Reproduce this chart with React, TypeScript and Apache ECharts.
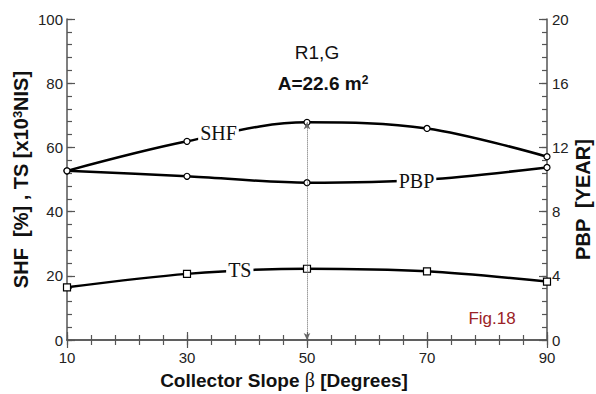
import React, { useEffect, useRef } from "react";
import * as echarts from "echarts";

const slopes = [10, 30, 50, 70, 90];
const shf = [52.7, 61.9, 67.8, 65.9, 57.1];
const pbp = [10.54, 10.2, 9.8, 10.0, 10.75];
const ts = [16.4, 20.6, 22.2, 21.4, 18.2];

const xTicks = [10, 30, 50, 70, 90];
const leftTicks = [0, 20, 40, 60, 80, 100];
const rightTicks = [0, 4, 8, 12, 16, 20];
const minorPerMajor = 5;

// label anchors in data coordinates
const shfLabelAt = [35.25, 64.6];
const pbpLabelAt = [68.25, 9.93];
const tsLabelAt = [38.8, 21.8];
const optimumSlope = 50;

const AXIS_COLOR = "#555";
const TXT = "#222";

function pairs(xs: number[], ys: number[]) {
  return xs.map((x, i) => [x, ys[i]]);
}

function lineLabel(name: string, at: number[]) {
  return {
    symbol: "rect",
    symbolSize: 1,
    silent: true,
    itemStyle: { color: "rgba(0,0,0,0)" },
    label: {
      show: true,
      position: "inside",
      formatter: name,
      fontFamily: "Liberation Serif",
      fontSize: 20,
      color: "#111",
      backgroundColor: "#fff",
      padding: [0, 2, 0, 2],
    },
    data: [{ coord: at }],
  };
}

export default function App() {
  const ref = useRef<HTMLDivElement>(null);
  useEffect(() => {
    if (!ref.current) return;
    const chart = echarts.init(ref.current, undefined, { renderer: "svg" });
    const majorStep = (t: number[]) => t[1] - t[0];
    const axisCommon = {
      type: "value",
      nameMoveOverlap: false,
      axisLine: { show: true, lineStyle: { color: AXIS_COLOR, width: 1.5 } },
      axisTick: { show: true, inside: true, length: 8, lineStyle: { color: AXIS_COLOR, width: 1.2 } },
      splitLine: { show: false },
    };
    const minorAxis = (position: string, t: number[]) => ({
      type: "value",
      position,
      min: t[0],
      max: t[t.length - 1],
      interval: majorStep(t) / minorPerMajor,
      axisLine: { show: false },
      axisTick: { show: true, inside: true, length: 5, lineStyle: { color: AXIS_COLOR, width: 1.2 } },
      axisLabel: { show: false },
      splitLine: { show: false },
    });
    const tickFont = { fontFamily: "Liberation Sans", fontSize: 15, color: TXT };
    const titleFont = { fontFamily: "Liberation Sans", fontSize: 20, fontWeight: "bold", color: "#111" };
    chart.setOption({
      animation: false,
      backgroundColor: "#fff",
      grid: { left: 67, right: 49, top: 19, bottom: 54, containLabel: false, outerBoundsMode: "none" },
      xAxis: [
        {
          ...axisCommon,
          position: "bottom",
          min: xTicks[0],
          max: xTicks[xTicks.length - 1],
          interval: majorStep(xTicks),
          axisLabel: { ...tickFont, margin: 10 },
          name: "Collector Slope {b|β} [Degrees]",
          nameLocation: "middle",
          nameGap: 30,
          nameTextStyle: {
            ...titleFont,
            fontSize: 19,
            padding: [0, 46, 0, 0],
            rich: {
              b: { fontFamily: "Liberation Serif", fontSize: 20, fontWeight: "normal", color: "#111" },
            },
          },
        },
        {
          ...axisCommon,
          position: "top",
          min: xTicks[0],
          max: xTicks[xTicks.length - 1],
          interval: majorStep(xTicks),
          axisLabel: { show: false },
        },
        minorAxis("bottom", xTicks),
        minorAxis("top", xTicks),
      ],
      yAxis: [
        {
          ...axisCommon,
          position: "left",
          min: leftTicks[0],
          max: leftTicks[leftTicks.length - 1],
          interval: majorStep(leftTicks),
          axisLabel: { ...tickFont, margin: 4 },
          name: "{a|SHF  [%] , TS [x10}{s|3}{a|NIS]}",
          nameLocation: "middle",
          nameRotate: 90,
          nameGap: 36,
          nameTextStyle: {
            rich: {
              a: { ...titleFont },
              s: { ...titleFont, fontSize: 13, verticalAlign: "top" },
            },
          },
        },
        {
          ...axisCommon,
          position: "right",
          min: rightTicks[0],
          max: rightTicks[rightTicks.length - 1],
          interval: majorStep(rightTicks),
          axisLabel: { ...tickFont, margin: 5 },
          name: "PBP  [YEAR]",
          nameLocation: "middle",
          nameRotate: 90,
          nameGap: 26,
          nameTextStyle: { ...titleFont, padding: [0, 40, 0, 0] },
        },
        minorAxis("left", leftTicks),
        minorAxis("right", rightTicks),
      ],
      series: [
        {
          name: "SHF",
          type: "line",
          xAxisIndex: 0,
          yAxisIndex: 0,
          data: pairs(slopes, shf),
          smooth: 0.35,
          symbol: "circle",
          symbolSize: 6,
          showAllSymbol: true,
          lineStyle: { color: "#000", width: 2.5 },
          itemStyle: { color: "#fff", borderColor: "#000", borderWidth: 1.2 },
          z: 3,
          markPoint: lineLabel("SHF", shfLabelAt),
          markLine: {
            silent: true,
            symbol: ["arrow", "arrow"],
            symbolSize: [5, 7],
            label: { show: false },
            lineStyle: { color: "#666", width: 1, type: "dotted" },
            data: [
              [
                { coord: [optimumSlope, shf[slopes.indexOf(optimumSlope)]] },
                { coord: [optimumSlope, leftTicks[0]] },
              ],
            ],
          },
        },
        {
          name: "PBP",
          type: "line",
          xAxisIndex: 0,
          yAxisIndex: 1,
          data: pairs(slopes, pbp),
          smooth: 0.3,
          symbol: "circle",
          symbolSize: 6,
          lineStyle: { color: "#000", width: 2.5 },
          itemStyle: { color: "#fff", borderColor: "#000", borderWidth: 1.2 },
          z: 3,
          markPoint: lineLabel("PBP", pbpLabelAt),
        },
        {
          name: "TS",
          type: "line",
          xAxisIndex: 0,
          yAxisIndex: 0,
          data: pairs(slopes, ts),
          smooth: 0.3,
          symbol: "rect",
          symbolSize: 7,
          lineStyle: { color: "#000", width: 2.5 },
          itemStyle: { color: "#fff", borderColor: "#000", borderWidth: 1.2 },
          z: 3,
          markPoint: lineLabel("TS", tsLabelAt),
        },
      ],
      graphic: [
        {
          type: "text",
          x: 317,
          y: 52,
          style: {
            text: "R1,G",
            fontFamily: "Liberation Sans",
            fontSize: 19,
            fill: "#111",
            textAlign: "center",
            textVerticalAlign: "middle",
          },
        },
        {
          type: "text",
          x: 323,
          y: 83,
          style: {
            text: "{a|A=22.6 m}{s|2}",
            textAlign: "center",
            textVerticalAlign: "middle",
            rich: {
              a: { fontFamily: "Liberation Sans", fontSize: 19, fontWeight: "bold", fill: "#111" },
              s: { fontFamily: "Liberation Sans", fontSize: 12, fontWeight: "bold", fill: "#111", verticalAlign: "top" },
            },
          },
        },
        {
          type: "text",
          x: 492,
          y: 318,
          style: {
            text: "Fig.18",
            fontFamily: "Liberation Sans",
            fontSize: 17,
            fill: "#9b2226",
            textAlign: "center",
            textVerticalAlign: "middle",
          },
        },
      ],
    });
    return () => chart.dispose();
  }, []);
  return (
    <div
      ref={ref}
      style={{ position: "fixed", left: 0, top: 0, width: 596, height: 394 }}
    />
  );
}
